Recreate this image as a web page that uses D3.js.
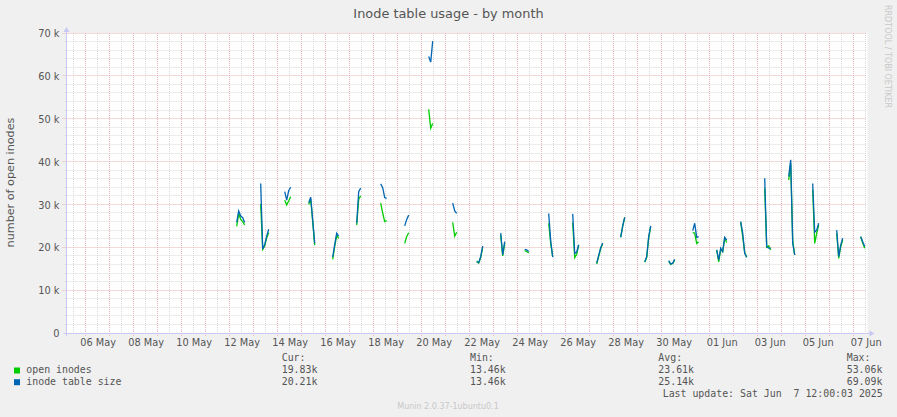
<!DOCTYPE html>
<html><head><meta charset="utf-8">
<script src="https://cdn.jsdelivr.net/npm/d3@7/dist/d3.min.js"></script>
<style>
html,body{margin:0;padding:0;background:#f0f0f0;}
svg{display:block;}
</style></head><body>
<svg id="c" width="897" height="417" font-family="DejaVu Sans, sans-serif"></svg>
<script>
// ---------- data ----------
const title = "Inode table usage - by month";
const yLabel = "number of open inodes";
const credit = "RRDTOOL / TOBI OETIKER";
const footer = "Munin 2.0.37-1ubuntu0.1";
const lastUpdate = "Last update: Sat Jun  7 12:00:03 2025";

// one burst of samples per day, first sample at startHour, then every stepHours (values in thousands)
const days = ["2025-05-12","2025-05-13","2025-05-14","2025-05-15","2025-05-16","2025-05-17","2025-05-18",
  "2025-05-19","2025-05-20","2025-05-21","2025-05-22","2025-05-23","2025-05-24","2025-05-25","2025-05-26",
  "2025-05-27","2025-05-28","2025-05-29","2025-05-30","2025-05-31","2025-06-01","2025-06-02","2025-06-03",
  "2025-06-04","2025-06-05","2025-06-06","2025-06-07"];
const startHour = 7;
const stepHours = 2;
const openInodes = [
  [24.9, 27.9, 26.5, 26.0, 25.2],
  [30.1, 19.5, 20.3, 22.2, 23.4],
  [31.0, 29.9, 30.8, 31.8],
  [30.0, 31.2, 26.0, 20.5],
  [17.2, 20.2, 22.8, 22.1],
  [25.2, 31.2, 32.0],
  [30.3, 28.0, 26.0, 26.2],
  [20.9, 22.5, 23.4],
  [52.2, 47.8, 48.9],
  [25.8, 22.6, 23.5],
  [16.8, 16.3, 17.6, 20.0],
  [22.9, 18.0, 20.9],
  [19.2, 19.0, 18.7],
  [25.6, 20.9, 17.8],
  [25.8, 17.6, 18.4, 20.5],
  [16.1, 17.9, 19.7, 20.8],
  [22.4, 24.9, 27.0],
  [16.5, 17.6, 22.2, 24.8],
  [16.7, 16.0, 16.2, 17.0],
  [23.4, 23.3, 20.9, 21.3],
  [19.4, 16.6, 19.4, 19.0, 22.1, 21.1],
  [25.8, 22.5, 18.8, 17.7],
  [33.8, 20.0, 20.3, 19.4],
  [35.7, 39.6, 21.5, 18.2],
  [33.5, 20.9, 23.3, 25.2],
  [23.3, 17.4, 20.1, 21.7],
  [22.4, 21.0, 19.8]
];
const tableSize = [
  [25.8, 28.5, 27.3, 26.9, 25.8],
  [34.9, 19.6, 20.6, 22.6, 24.2],
  [33.0, 31.0, 33.2, 34.0],
  [30.4, 31.7, 26.4, 20.9],
  [17.7, 20.6, 23.3, 22.6],
  [25.6, 33.0, 33.8],
  [34.8, 33.9, 31.6, 31.4],
  [25.0, 26.5, 27.5],
  [64.5, 63.2, 68.1],
  [30.3, 28.5, 27.9],
  [16.6, 16.4, 17.8, 20.3],
  [23.3, 18.2, 21.3],
  [19.5, 19.4, 19.0],
  [27.9, 21.5, 17.7],
  [27.8, 18.6, 18.9, 20.6],
  [16.3, 18.1, 19.9, 21.0],
  [22.3, 25.0, 27.0],
  [16.6, 17.8, 22.5, 25.0],
  [16.9, 16.1, 16.3, 17.2],
  [23.9, 25.6, 22.3, 22.5],
  [19.4, 17.0, 19.8, 19.0, 22.3, 21.7],
  [26.0, 23.3, 18.6, 17.7],
  [36.1, 20.2, 19.8, 19.8],
  [36.5, 40.4, 21.0, 18.2],
  [34.9, 23.5, 24.0, 25.6],
  [24.0, 17.8, 20.5, 22.1],
  [22.5, 21.3, 20.2]
];
const yTicks = [0, 10, 20, 30, 40, 50, 60, 70];
const xLabelDays = ["2025-05-06","2025-05-08","2025-05-10","2025-05-12","2025-05-14","2025-05-16","2025-05-18",
  "2025-05-20","2025-05-22","2025-05-24","2025-05-26","2025-05-28","2025-05-30","2025-06-01","2025-06-03",
  "2025-06-05","2025-06-07"];
const timeDomain = ["2025-05-05 04:48", "2025-06-07 12:48"];
const seriesNames = ["open inodes", "inode table size"];
const seriesColors = ["#00cc00", "#0066b3"];
const curVals = ["19.83k", "20.21k"];
const minVals = ["13.46k", "13.46k"];
const avgVals = ["23.61k", "25.14k"];
const maxVals = ["53.06k", "69.09k"];

// ---------- drawing ----------
const svg = d3.select("#c");
const pDay = d3.timeParse("%Y-%m-%d");
const pDT = d3.timeParse("%Y-%m-%d %H:%M");
const L = 66.5, R = 866.5, T = 33, B = 333;
const x = d3.scaleTime().domain(timeDomain.map(pDT)).range([L, R]);
const y = d3.scaleLinear().domain([0, 70]).range([B, T]);
const snap = v => Math.floor(v) + 0.5;

svg.append("rect").attr("x", 0).attr("y", 0).attr("width", 897).attr("height", 417).attr("fill", "#f0f0f0");
svg.append("rect").attr("x", 66).attr("y", T).attr("width", R - 66 + 1).attr("height", B - T).attr("fill", "#ffffff");

const grid = svg.append("g");
const majorCol = "#e8b4b4", minorCol = "#d8d8d8";
// vertical grid: minor every 12h, major at midnight
const t0 = x.domain()[0], t1 = x.domain()[1];
d3.timeHour.every(12).range(t0, t1).forEach(t => {
  const major = t.getHours() === 0;
  const xx = snap(x(t));
  grid.append("line").attr("x1", xx).attr("x2", xx).attr("y1", T).attr("y2", B + (major ? 3 : 1))
    .attr("stroke", major ? majorCol : minorCol).attr("stroke-width", 1).attr("stroke-dasharray", "1,1");
});
// horizontal grid: minor every 2k, major every 10k
d3.range(2, 71, 2).forEach(v => {
  const major = v % 10 === 0;
  const yy = snap(y(v));
  grid.append("line").attr("x1", L - (major ? 4 : 2)).attr("x2", R).attr("y1", yy).attr("y2", yy)
    .attr("stroke", major ? majorCol : minorCol).attr("stroke-width", 1).attr("stroke-dasharray", "1,1");
});

// axes lines + arrows
const axisCol = "#c8c8f4";
svg.append("line").attr("x1", L).attr("x2", L).attr("y1", B + 3).attr("y2", T - 2).attr("stroke", axisCol);
svg.append("line").attr("x1", L - 3).attr("x2", R + 4).attr("y1", B + 0.5).attr("y2", B + 0.5).attr("stroke", axisCol);
svg.append("path").attr("d", `M${L - 3},${T - 1}L${L + 3},${T - 1}L${L},${T - 6}Z`).attr("fill", axisCol);
svg.append("path").attr("d", `M${R + 3},${B - 2.5}L${R + 3},${B + 3.5}L${R + 8},${B + 0.5}Z`).attr("fill", axisCol);

// y axis labels
const yAxis = svg.append("g").attr("transform", `translate(${L},0)`)
  .call(d3.axisLeft(y).tickValues(yTicks).tickSize(0).tickPadding(7).tickFormat(v => v === 0 ? "0" : v + " k"));
yAxis.select(".domain").remove();
yAxis.attr("font-family", "DejaVu Sans").attr("font-size", 9.8);
yAxis.selectAll("text").attr("fill", "#555").attr("dy", null).attr("y", 3.6);

// x axis labels (centered at noon)
const labelDates = xLabelDays.map(d => d3.timeHour.offset(pDay(d), 12));
const xAxis = svg.append("g").attr("transform", `translate(0,${B})`)
  .call(d3.axisBottom(x).tickValues(labelDates).tickSize(0).tickFormat(d3.timeFormat("%d %b")));
xAxis.select(".domain").remove();
xAxis.attr("font-family", "DejaVu Sans").attr("font-size", 9.8);
xAxis.selectAll("text").attr("fill", "#555").attr("dy", null).attr("y", 13);

// series lines
const line = d3.line().x(d => x(d.t)).y(d => y(d.v));
function series(arr) {
  return arr.map((vals, i) => vals.map((v, j) => ({
    t: d3.timeHour.offset(pDay(days[i]), startHour + j * stepHours), v })));
}
[openInodes, tableSize].forEach((arr, k) => {
  series(arr).forEach(seg => {
    svg.append("path").datum(seg).attr("d", line).attr("fill", "none")
      .attr("stroke", seriesColors[k]).attr("stroke-width", 1.3).attr("stroke-linejoin", "miter");
  });
});

// title, y label, credit, footer
svg.append("text").attr("x", 448.5).attr("y", 18).attr("text-anchor", "middle")
  .attr("font-size", 12.9).attr("fill", "#555").text(title);
svg.append("text").attr("transform", "translate(14,182.5) rotate(-90)").attr("text-anchor", "middle")
  .attr("font-size", 11.2).attr("fill", "#555").text(yLabel);
svg.append("text").attr("transform", "translate(885,5) rotate(90)").attr("text-anchor", "start")
  .attr("font-size", 8).attr("fill", "#c8c8c8").text(credit);
svg.append("text").attr("x", 448).attr("y", 409).attr("text-anchor", "middle")
  .attr("font-size", 8).attr("fill", "#c8c8c8").text(footer);

// legend (monospace)
const legend = svg.append("g").attr("font-family", "DejaVu Sans Mono, monospace").attr("font-size", 9.9).attr("fill", "#555");
const cols = [["Cur:", curVals, 281.7], ["Min:", minVals, 470], ["Avg:", avgVals, 658.3], ["Max:", maxVals, 846.7]];
cols.forEach(([h, vals, cx]) => {
  legend.append("text").attr("x", cx).attr("y", 361).text(h);
  vals.forEach((v, i) => legend.append("text").attr("x", cx).attr("y", 373 + i * 11.7).text(v));
});
seriesNames.forEach((n, i) => {
  legend.append("rect").attr("x", 14).attr("y", 367.5 + i * 11.7).attr("width", 6).attr("height", 6)
    .attr("fill", seriesColors[i]);
  legend.append("text").attr("x", 26.3).attr("y", 373 + i * 11.7).text(n);
});
legend.append("text").attr("x", 882.7).attr("y", 396.7).attr("text-anchor", "end")
  .attr("xml:space", "preserve").style("white-space", "pre").text(lastUpdate);
</script>
</body></html>
